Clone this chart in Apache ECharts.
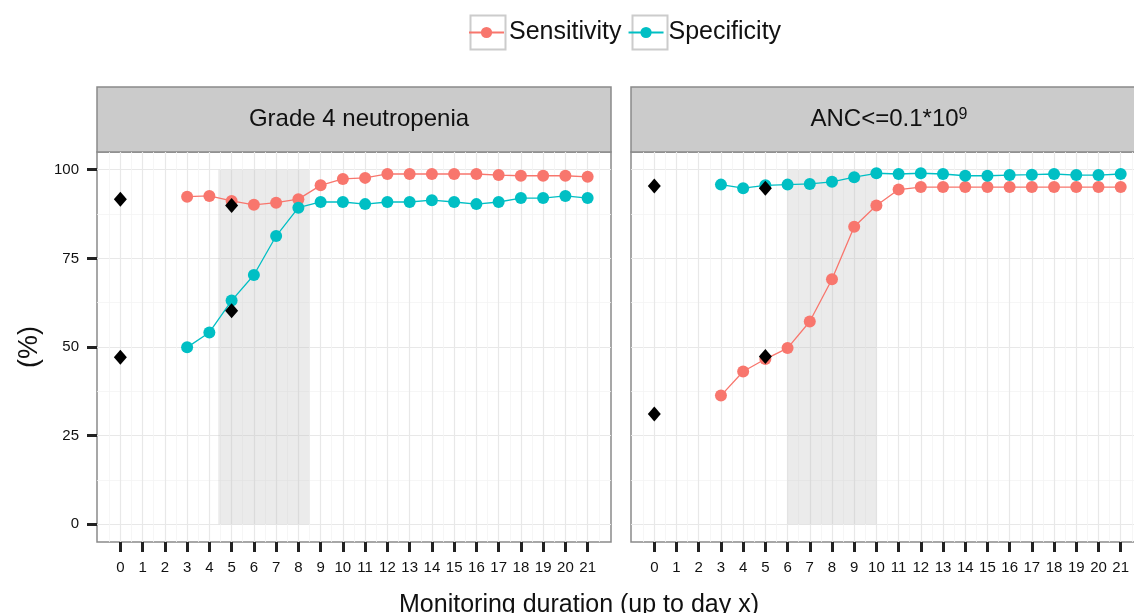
<!DOCTYPE html>
<html>
<head>
<meta charset="utf-8">
<script src="https://cdn.jsdelivr.net/npm/echarts@6/dist/echarts.min.js"></script>
<style>
  html, body { margin: 0; padding: 0; background: #fff; }
  #main { width: 1134px; height: 613px; }
</style>
</head>
<body>
<div id="main"></div>
<script>
// days with a measured value (3 .. 21)
var days = [3, 4, 5, 6, 7, 8, 9, 10, 11, 12, 13, 14, 15, 16, 17, 18, 19, 20, 21];
var xTicks = [0, 1, 2, 3, 4, 5, 6, 7, 8, 9, 10, 11, 12, 13, 14, 15, 16, 17, 18, 19, 20, 21];
var xMinor = [-0.5, 0.5, 1.5, 2.5, 3.5, 4.5, 5.5, 6.5, 7.5, 8.5, 9.5, 10.5, 11.5, 12.5, 13.5, 14.5, 15.5, 16.5, 17.5, 18.5, 19.5, 20.5, 21.5];
var yTicks = [0, 25, 50, 75, 100];
var yMinor = [12.5, 37.5, 62.5, 87.5];
var panels = ['Grade 4 neutropenia', 'ANC<=0.1*10^9'];

// Grade 4 neutropenia
var sensG4 = [92.4, 92.6, 91.2, 90.1, 90.7, 91.7, 95.6, 97.4, 97.7, 98.8, 98.8, 98.8, 98.8, 98.8, 98.5, 98.3, 98.3, 98.3, 98.0];
var specG4 = [49.9, 54.1, 63.1, 70.3, 81.3, 89.3, 90.9, 90.9, 90.3, 90.9, 90.9, 91.4, 90.9, 90.3, 90.9, 92.0, 92.0, 92.6, 92.0];
// ANC<=0.1*10^9
var sensANC = [36.3, 43.1, 46.6, 49.7, 57.2, 69.1, 83.9, 89.9, 94.4, 95.1, 95.1, 95.1, 95.1, 95.1, 95.1, 95.1, 95.1, 95.1, 95.1];
var specANC = [95.8, 94.8, 95.6, 95.8, 96.0, 96.6, 97.9, 99.0, 98.8, 99.0, 98.8, 98.3, 98.3, 98.5, 98.6, 98.8, 98.5, 98.5, 98.8];

// black diamond reference points
var refDays = [0, 0, 5, 5];
var refG4 = [91.7, 47.1, 89.9, 60.2];
var refANC = [95.4, 31.1, 94.8, 47.3];

// shaded windows
var shadeG4 = [4.4, 8.5];
var shadeANC = [6, 10];

var RED = '#F8766D', CYAN = '#00BFC4';
var FONT = 'Liberation Sans';

function pairs(xs, ys) {
    return xs.map(function (x, i) { return [x, ys[i]]; });
}

function mainX(grid, showLabel) {
    return {
        type: 'value', gridIndex: grid, min: -1.05, max: 22.05,
        axisLine: { show: false, onZero: false },
        axisTick: { show: true, length: 10, customValues: xTicks, lineStyle: { color: '#222', width: 3 } },
        axisLabel: { show: showLabel, customValues: xTicks, margin: 18, fontSize: 15, color: '#111', fontFamily: FONT },
        splitLine: { show: true, lineStyle: { color: '#e8e8e8', width: 1.2 } }
    };
}
function minorX(grid) {
    return {
        type: 'value', gridIndex: grid, min: -1.05, max: 22.05,
        axisLine: { show: false, onZero: false },
        axisTick: { show: false, customValues: xMinor },
        axisLabel: { show: false, customValues: xMinor },
        splitLine: { show: true, lineStyle: { color: '#f4f4f4', width: 0.8 } }
    };
}
function mainY(grid, showLabel) {
    return {
        type: 'value', gridIndex: grid, min: -5, max: 105,
        name: showLabel ? '(%)' : '', nameLocation: 'middle', nameGap: 54, nameRotate: 90,
        nameTextStyle: { fontSize: 27, color: '#111', fontFamily: FONT },
        axisLine: { show: false, onZero: false },
        axisTick: { show: showLabel, length: 10, customValues: yTicks, lineStyle: { color: '#222', width: 3 } },
        axisLabel: { show: showLabel, customValues: yTicks, margin: 18, fontSize: 15, color: '#111', fontFamily: FONT },
        splitLine: { show: true, lineStyle: { color: '#e8e8e8', width: 1.2 } }
    };
}
function minorY(grid) {
    return {
        type: 'value', gridIndex: grid, min: -5, max: 105,
        axisLine: { show: false, onZero: false },
        axisTick: { show: false, customValues: yMinor },
        axisLabel: { show: false, customValues: yMinor },
        splitLine: { show: true, lineStyle: { color: '#f4f4f4', width: 0.8 } }
    };
}
function hidden(grid) {
    return { type: 'value', gridIndex: grid, show: false };
}

function lineSeries(name, color, ax, values) {
    return {
        name: name, type: 'line', xAxisIndex: ax, yAxisIndex: ax,
        data: pairs(days, values),
        symbol: 'circle', symbolSize: 12,
        itemStyle: { color: color, opacity: 1 },
        lineStyle: { color: color, width: 1.3 },
        z: 3
    };
}
function refSeries(ax, values, shade) {
    return {
        name: 'ref', type: 'scatter', xAxisIndex: ax, yAxisIndex: ax,
        data: pairs(refDays, values),
        symbol: 'diamond', symbolSize: [13, 15],
        itemStyle: { color: '#000', opacity: 1 },
        z: 4,
        markArea: {
            silent: true,
            itemStyle: { color: 'rgba(190,190,190,0.3)' },
            data: [[{ xAxis: shade[0], yAxis: 0 }, { xAxis: shade[1], yAxis: 100 }]]
        }
    };
}

function panelGrid(left, top, width, height, fill) {
    return {
        left: left, top: top, width: width, height: height,
        show: true, backgroundColor: fill, borderColor: '#8a8a8a', borderWidth: 1.5,
        outerBoundsMode: 'none', containLabel: false
    };
}

var chart = echarts.init(document.getElementById('main'));
var option = {
    animation: false,
    backgroundColor: '#fff',
    textStyle: { fontFamily: FONT },
    legend: {
        data: ['Sensitivity', 'Specificity'],
        left: 468, top: 20, padding: 0,
        itemWidth: 35, itemHeight: 14, itemGap: 6,
        textStyle: { fontSize: 25, color: '#111', fontFamily: FONT }
    },
    // grey key boxes like the ggplot legend
    graphic: [
        { type: 'rect', left: 468, top: 13, shape: { width: 35, height: 34 }, silent: true, z: -1,
          style: { fill: 'none', stroke: '#cccccc', lineWidth: 2 } },
        { type: 'rect', left: 630, top: 13, shape: { width: 35, height: 34 }, silent: true, z: -1,
          style: { fill: 'none', stroke: '#cccccc', lineWidth: 2 } }
    ],
    title: [
        { text: panels[0], left: 354, top: 102, textAlign: 'center',
          textStyle: { fontSize: 24, fontWeight: 'normal', color: '#111', fontFamily: FONT } },
        { text: '{n|ANC<=0.1*10}{s|9}', left: 884, top: 102, textAlign: 'center',
          textStyle: { fontSize: 24, fontWeight: 'normal', color: '#111', fontFamily: FONT,
            rich: { n: { fontSize: 24, color: '#111', fontFamily: FONT },
                    s: { fontSize: 16, color: '#111', fontFamily: FONT, verticalAlign: 'top' } } } },
        { text: 'Monitoring duration (up to day x)', left: 574, top: 588, textAlign: 'center',
          textStyle: { fontSize: 25, fontWeight: 'normal', color: '#111', fontFamily: FONT } }
    ],
    grid: [
        panelGrid(97, 152, 514, 390, '#fff'),
        panelGrid(631, 152, 513, 390, '#fff'),
        panelGrid(97, 87, 514, 65, '#cbcbcb'),
        panelGrid(631, 87, 513, 65, '#cbcbcb')
    ],
    xAxis: [mainX(0, true), minorX(0), mainX(1, true), minorX(1), hidden(2), hidden(3)],
    yAxis: [mainY(0, true), minorY(0), mainY(1, false), minorY(1), hidden(2), hidden(3)],
    series: [
        lineSeries('Sensitivity', RED, 0, sensG4),
        lineSeries('Specificity', CYAN, 0, specG4),
        refSeries(0, refG4, shadeG4),
        lineSeries('Sensitivity', RED, 2, sensANC),
        lineSeries('Specificity', CYAN, 2, specANC),
        refSeries(2, refANC, shadeANC)
    ]
};
chart.setOption(option);
</script>
</body>
</html>
